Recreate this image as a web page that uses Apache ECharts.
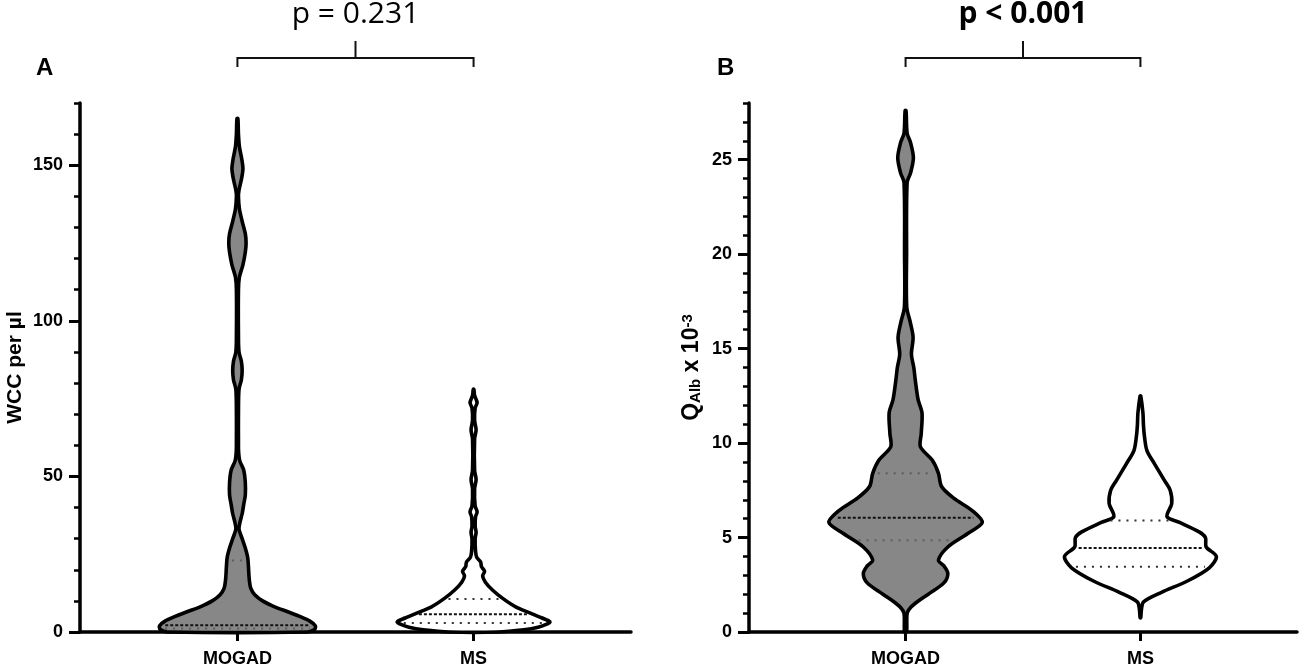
<!DOCTYPE html>
<html>
<head>
<meta charset="utf-8">
<script src="https://cdn.jsdelivr.net/npm/echarts@6/dist/echarts.min.js"></script>
<style>
  html, body { margin: 0; padding: 0; background: #fff; }
  #main { width: 1299px; height: 668px; }
</style>
</head>
<body>
<div id="main"></div>
<script>
var myChart = echarts.init(document.getElementById('main'));

// groups on the x axis
var groups = ['MOGAD', 'MS'];
var pValues = ['p = 0.231', 'p < 0.001'];

// y axis ticks
var wccTicks = [0, 50, 100, 150];
var qalbTicks = [0, 5, 10, 15, 20, 25];

// violin outlines: level on y, half width in x units
var mogadWccLevels = [0, 0.8, 2, 3.5, 5, 6.5, 8, 10, 12, 14, 17, 21, 24, 27, 30, 33, 35, 38, 41, 44,
                      48, 52, 55, 58, 62, 70, 78, 81, 84, 87, 90, 95, 110, 114, 118, 122, 125, 128, 132, 136,
                      140, 142, 146, 149, 152, 156, 160, 165];
var mogadWccHalf = [0.89, 0.98, 0.99, 0.92, 0.79, 0.64, 0.48, 0.32, 0.22, 0.17, 0.15, 0.14, 0.13, 0.10, 0.06, 0.02, 0.03, 0.06, 0.08, 0.10,
                    0.10, 0.08, 0.03, 0.015, 0.013, 0.013, 0.02, 0.05, 0.06, 0.05, 0.02, 0.013, 0.013, 0.025, 0.07, 0.10, 0.11, 0.10, 0.06, 0.025,
                    0.013, 0.02, 0.055, 0.07, 0.055, 0.025, 0.013, 0.006];
var msWccLevels = [0, 0.7, 1.5, 2.5, 3.3, 4.5, 6, 8, 10.8, 13.5, 16, 18, 19.5, 21, 22.5, 24, 26, 30, 32, 34,
                   37, 38.6, 40.5, 46, 49, 52, 62, 65, 68, 72, 73.7, 76, 78];
var msWccHalf = [0.30, 0.64, 0.82, 0.93, 0.97, 0.87, 0.73, 0.54, 0.37, 0.24, 0.15, 0.115, 0.14, 0.10, 0.09, 0.04, 0.025, 0.02, 0.032, 0.02,
                 0.025, 0.045, 0.02, 0.013, 0.032, 0.013, 0.013, 0.032, 0.013, 0.02, 0.045, 0.013, 0.004];
var mogadQalbLevels = [0, 1.0, 1.3, 1.6, 2.0, 2.6, 3.1, 3.5, 3.8, 4.5, 5.2, 5.8, 6.4, 7.1, 7.7, 8.4, 9.1, 9.8, 10.5, 11.6,
                       12.3, 13.3, 14.0, 14.7, 15.6, 16.4, 17.2, 20, 23.8, 24.3, 25.1, 25.9, 26.4, 27.6];
var mogadQalbHalf = [0.013, 0.02, 0.064, 0.15, 0.29, 0.49, 0.54, 0.49, 0.42, 0.54, 0.79, 0.98, 0.86, 0.61, 0.46, 0.42, 0.34, 0.19, 0.20, 0.21,
                     0.16, 0.125, 0.105, 0.075, 0.096, 0.06, 0.015, 0.013, 0.02, 0.064, 0.10, 0.064, 0.02, 0.006];
var msQalbLevels = [0.75, 1.2, 1.6, 2.1, 2.7, 3.4, 4.0, 4.5, 5.0, 5.3, 5.8, 6.1, 6.8, 7.5, 8.0, 8.9, 9.6, 10.4, 11.0, 11.6, 12.5];
var msQalbHalf = [0.004, 0.013, 0.04, 0.27, 0.60, 0.88, 0.97, 0.84, 0.83, 0.75, 0.50, 0.34, 0.40, 0.38, 0.31, 0.18, 0.083, 0.05, 0.038, 0.032, 0.004];

// quartiles [Q1, median, Q3]
var mogadWccQuart = [1.1, 2.2, 23];
var msWccQuart = [2.9, 5.7, 10.6];
var mogadQalbQuart = [4.85, 6.05, 8.4];
var msQalbQuart = [3.45, 4.45, 5.9];

var FONT = '"Liberation Sans", Arial, Helvetica, sans-serif';

function halfAt(levels, halfs, y) {
    for (var i = 1; i < levels.length; i++) {
        if (y <= levels[i]) {
            var t = (y - levels[i - 1]) / (levels[i] - levels[i - 1]);
            return halfs[i - 1] + t * (halfs[i] - halfs[i - 1]);
        }
    }
    return halfs[halfs.length - 1];
}

function violin(levels, halfs, quart, fill, qColor, mColor) {
    return function (params, api) {
        var cx = api.value(0);
        var pts = [];
        for (var i = 0; i < levels.length; i++) pts.push(api.coord([cx + halfs[i], levels[i]]));
        for (var j = levels.length - 1; j >= 0; j--) pts.push(api.coord([cx - halfs[j], levels[j]]));
        var kids = [{
            type: 'polygon',
            shape: { points: pts, smooth: 0.3 },
            style: { fill: fill, stroke: '#000', lineWidth: 3.6, lineJoin: 'round' }
        }];
        quart.forEach(function (q, k) {
            var w = halfAt(levels, halfs, q);
            var a = api.coord([cx - w, q]), b = api.coord([cx + w, q]);
            kids.push({
                type: 'line',
                shape: { x1: a[0] + 5, y1: a[1], x2: b[0] - 5, y2: b[1] },
                style: k === 1
                    ? { stroke: mColor, lineWidth: 2, lineDash: [3, 2] }
                    : { stroke: qColor, lineWidth: 2, lineDash: [2, 6] }
            });
        });
        return { type: 'group', children: kids };
    };
}

function xAxisFor(gi) {
    return {
        gridIndex: gi, type: 'value', min: 0, max: 7,
        axisLine: { show: true, lineStyle: { color: '#000', width: 3.5 } },
        axisTick: { show: true, customValues: [2, 5], length: 9, lineStyle: { color: '#000', width: 3 } },
        axisLabel: {
            customValues: [2, 5], margin: 18, color: '#000', fontFamily: FONT, fontWeight: 'bold', fontSize: 18,
            formatter: function (v) { return groups[Math.round((v - 2) / 3)]; }
        },
        splitLine: { show: false }
    };
}

function yMajor(gi, max, ticks, name, nameGap, nameSize, rich) {
    return {
        gridIndex: gi, type: 'value', position: 'left', min: 0, max: max,
        name: name, nameLocation: 'middle', nameGap: nameGap,
        nameTextStyle: { color: '#000', fontFamily: FONT, fontWeight: 'bold', fontSize: nameSize, rich: rich },
        axisLine: { show: true, lineStyle: { color: '#000', width: 3.5 } },
        axisTick: { show: true, customValues: ticks, length: 11, lineStyle: { color: '#000', width: 3 } },
        axisLabel: { customValues: ticks, margin: 17, color: '#000', fontFamily: FONT, fontWeight: 'bold', fontSize: 18 },
        splitLine: { show: false }
    };
}

function yMinor(gi, max, step) {
    return {
        gridIndex: gi, type: 'value', position: 'left', min: 0, max: max, interval: step,
        axisLine: { show: false },
        axisTick: { show: true, length: 6, lineStyle: { color: '#000', width: 2.5 } },
        axisLabel: { show: false },
        splitLine: { show: false }
    };
}

option = {
    animation: false,
    backgroundColor: '#fff',
    grid: [
        { left: 80, top: 103, width: 551, bottom: 36 },
        { left: 749, top: 103, width: 548, bottom: 36 }
    ],
    xAxis: [xAxisFor(0), xAxisFor(1)],
    yAxis: [
        yMajor(0, 170, wccTicks, 'WCC per µl', 54, 21),
        yMinor(0, 170, 10),
        yMajor(1, 28, qalbTicks, 'Q{sub|Alb} x 10{sup|-3}', 46, 23, {
            sub: { fontFamily: FONT, fontWeight: 'bold', fontSize: 15, verticalAlign: 'bottom', lineHeight: 16 },
            sup: { fontFamily: FONT, fontWeight: 'bold', fontSize: 15, verticalAlign: 'top', lineHeight: 16 }
        }),
        yMinor(1, 28, 1)
    ],
    series: [
        { name: 'MOGAD WCC', type: 'custom', xAxisIndex: 0, yAxisIndex: 0, data: [[2]],
          renderItem: violin(mogadWccLevels, mogadWccHalf, mogadWccQuart, '#878787', '#5e5e5e', '#111') },
        { name: 'MS WCC', type: 'custom', xAxisIndex: 0, yAxisIndex: 0, data: [[5]],
          renderItem: violin(msWccLevels, msWccHalf, msWccQuart, '#fff', '#333', '#111') },
        { name: 'MOGAD QAlb', type: 'custom', xAxisIndex: 1, yAxisIndex: 2, data: [[2]],
          renderItem: violin(mogadQalbLevels, mogadQalbHalf, mogadQalbQuart, '#878787', '#5e5e5e', '#111') },
        { name: 'MS QAlb', type: 'custom', xAxisIndex: 1, yAxisIndex: 2, data: [[5]],
          renderItem: violin(msQalbLevels, msQalbHalf, msQalbQuart, '#fff', '#333', '#111') }
    ]
};

myChart.setOption(option);

// brackets, p values and panel letters
var gfx = [];
[0, 1].forEach(function (gi) {
    var x1 = myChart.convertToPixel({ xAxisIndex: gi }, 2);
    var x2 = myChart.convertToPixel({ xAxisIndex: gi }, 5);
    var xm = (x1 + x2) / 2;
    gfx.push({ type: 'polyline', shape: { points: [[x1, 67], [x1, 58], [x2, 58], [x2, 67]] },
               style: { stroke: '#111', lineWidth: 2, fill: null } });
    gfx.push({ type: 'line', shape: { x1: xm, y1: 58, x2: xm, y2: 41 }, style: { stroke: '#111', lineWidth: 2 } });
    gfx.push({ type: 'text', x: xm, y: 14,
               style: { text: pValues[gi], textAlign: 'center', textVerticalAlign: 'middle', fill: '#000',
                        font: (gi === 1 ? 'bold ' : '') + '30px "Open Sans", sans-serif' } });
});
gfx.push({ type: 'text', x: 36, y: 68, style: { text: 'A', textVerticalAlign: 'middle', fill: '#000', font: 'bold 24px ' + FONT } });
gfx.push({ type: 'text', x: 717, y: 68, style: { text: 'B', textVerticalAlign: 'middle', fill: '#000', font: 'bold 24px ' + FONT } });
myChart.setOption({ graphic: gfx });
</script>
</body>
</html>
